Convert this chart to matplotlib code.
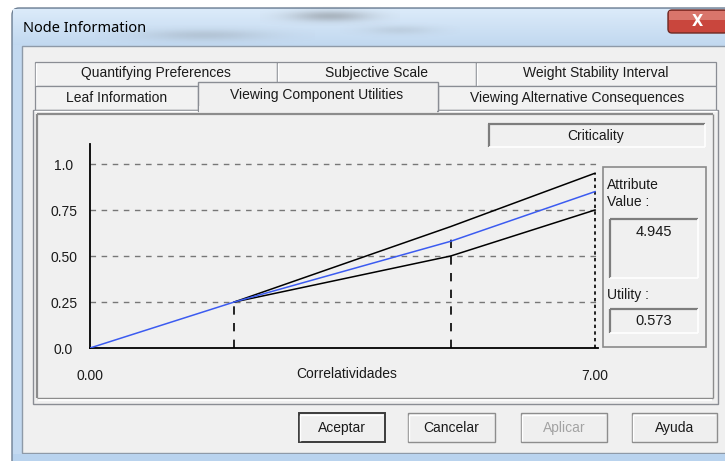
import numpy as np
import matplotlib
matplotlib.use("Agg")
import matplotlib.pyplot as plt
from matplotlib.patches import Rectangle, FancyBboxPatch

# ---------------- data ----------------
x_knots = [0, 2, 5, 7]
blue_util = [0.0, 0.25, 0.58, 0.85]
x_band = [2, 5, 7]
upper_util = [0.25, 0.66, 0.95]
lower_util = [0.25, 0.50, 0.75]
grid_levels = [0.25, 0.50, 0.75, 1.0]
y_ticks = [0.0, 0.25, 0.50, 0.75, 1.0]
y_ticklabels = ["0.0", "0.25", "0.50", "0.75", "1.0"]
x_ticks = [0, 7]
x_ticklabels = ["0.00", "7.00"]
x_label = "Correlatividades"
vline_x = [2, 5, 7]
vline_top = [0.25, 0.60, 0.95]
attribute_value = "4.945"
utility_value = "0.573"
tabs_row1 = ["Quantifying Preferences", "Subjective Scale", "Weight Stability Interval"]
tabs_row2 = ["Leaf Information", "Viewing Component Utilities", "Viewing Alternative Consequences"]
buttons = ["Aceptar", "Cancelar", "Aplicar", "Ayuda"]

W, H = 725, 461
FONT = "Liberation Sans"

fig = plt.figure(figsize=(W / 100, H / 100), dpi=100)
fig.patch.set_facecolor("white")
bg = fig.add_axes([0, 0, 1, 1])
bg.set_xlim(0, W)
bg.set_ylim(H, 0)
bg.axis("off")


def rect(x0, y0, x1, y1, fc="none", ec="none", lw=1.0, z=1, alpha=1.0):
    bg.add_patch(Rectangle((x0, y0), x1 - x0, y1 - y0, facecolor=fc,
                           edgecolor=ec, linewidth=lw, zorder=z, alpha=alpha))


def line(xs, ys, c, lw=1.0, z=3):
    bg.plot(xs, ys, color=c, lw=lw, zorder=z, solid_capstyle="butt")


def txt(x, y, s, size=10, ha="center", color="#1a1a1a", family=FONT, z=6, **kw):
    bg.text(x, y, s, fontsize=size, ha=ha, va="center", color=color,
            family=family, zorder=z, **kw)


# ---------------- window frame ----------------
frame = FancyBboxPatch((12, 8), 760, 460, boxstyle="round,pad=0,rounding_size=7",
                       facecolor="#c3d9f0", edgecolor="#6d7f93", lw=1.0, zorder=0.5)
bg.add_patch(frame)
# title bar gradient
grad = np.linspace(0, 1, 40)[:, None]
top_c = np.array([0.86, 0.92, 0.98])
bot_c = np.array([0.76, 0.85, 0.94])
img = top_c[None, None, :] * (1 - grad[..., None]) + bot_c[None, None, :] * grad[..., None]
img = np.repeat(img, 2, axis=1)
bg.imshow(img, extent=[13, 725, 45, 9], aspect="auto", zorder=0.6, interpolation="bilinear")
# blurred background smudges
for cx, cy, w, h, a in [(330, 16, 70, 10, 0.35), (205, 35, 110, 10, 0.18), (400, 30, 60, 8, 0.12)]:
    yy, xx = np.mgrid[-1:1:30j, -1:1:60j]
    blob = np.exp(-(xx ** 2 + yy ** 2) * 3)
    rgba = np.zeros((30, 60, 4))
    rgba[..., :3] = 0.35
    rgba[..., 3] = blob * a
    bg.imshow(rgba, extent=[cx - w, cx + w, cy + h, cy - h], aspect="auto", zorder=0.7)
txt(23, 28, "Node Information", size=10.5, ha="left", color="#000000", family="Noto Sans")

# close button
close = FancyBboxPatch((668, 10), 60, 23, boxstyle="round,pad=0,rounding_size=4",
                       facecolor="#c9463d", edgecolor="#6e2a24", lw=1.0, zorder=2)
bg.add_patch(close)
rect(669, 11, 726, 20, fc="#e08a80", z=2.1, alpha=0.7)
txt(697, 21, "X", size=10.5, color="white", weight="bold", family="DejaVu Sans", z=3)

# client area
rect(22, 46, 726, 453, fc="#f0f0f0", ec="#8e9aa8", lw=1.0, z=1)
rect(13, 454, 726, 461, fc="#b9d3ee", z=1)

# ---------------- tabs ----------------
tab_grey = "#f2f2f2"
tab_edge = "#8a8d94"
row1_x = [35, 277, 476, 716]
for i, label in enumerate(tabs_row1):
    rect(row1_x[i], 62, row1_x[i + 1], 86, fc=tab_grey, ec=tab_edge, lw=0.9, z=2)
    line([row1_x[i] + 1, row1_x[i] + 1], [63, 86], "white", lw=1, z=2.1)
    txt((row1_x[i] + row1_x[i + 1]) / 2, 73.5, label, size=10)

row2_x = [35, 198, 438, 716]
for i, label in enumerate(tabs_row2):
    if i == 1:
        continue
    rect(row2_x[i], 86, row2_x[i + 1], 110, fc=tab_grey, ec=tab_edge, lw=0.9, z=2.2)
    txt((row2_x[i] + row2_x[i + 1]) / 2, 97.5, label, size=10)

# tab panel
rect(33, 110, 718, 404, fc="#f0f0f0", ec="#8a8d94", lw=1.0, z=2.5)
line([34, 717], [111, 111], "white", lw=1, z=2.6)
# selected tab
rect(198, 82, 438, 111, fc="#f0f0f0", ec="#8a8d94", lw=1.0, z=2.7)
rect(199, 106, 437, 113, fc="#f0f0f0", z=2.8)
txt(317, 94.5, tabs_row2[1], size=10, z=3)

# sunken inner frame
line([37, 37], [114, 398], "#8c8c8c", lw=1.6, z=3)
line([37, 713], [114, 114], "#8c8c8c", lw=1.6, z=3)
line([713, 713], [114, 398], "#8c8c8c", lw=1.0, z=3)
line([37, 713], [398, 398], "#8c8c8c", lw=1.0, z=3)
line([38, 712], [400, 400], "white", lw=1.2, z=3)

# criticality box
rect(488, 123, 705, 147, fc="#f0f0f0", ec="none", z=3)
line([488, 705], [124, 124], "#7d7d7d", lw=1.6, z=3.1)
line([489, 489], [124, 147], "#7d7d7d", lw=1.6, z=3.1)
line([489, 705], [147, 147], "white", lw=1.2, z=3.1)
line([705, 705], [124, 147], "white", lw=1.2, z=3.1)
txt(596, 135.5, "Criticality", size=10)

# attribute / utility panel
rect(603, 167, 706, 347, fc="none", ec="#8a8a8a", lw=1.2, z=3)
txt(607, 185, "Attribute", size=10, ha="left")
txt(607, 202, "Value :", size=10, ha="left")
for (y0, y1, val, ty) in [(219, 278, attribute_value, 232), (309, 333, utility_value, 321)]:
    line([610, 698], [y0, y0], "#7d7d7d", lw=1.6, z=3.1)
    line([610, 610], [y0, y1], "#7d7d7d", lw=1.6, z=3.1)
    line([610, 698], [y1, y1], "white", lw=1.2, z=3.1)
    line([698, 698], [y0, y1], "white", lw=1.2, z=3.1)
    txt(654, ty, val, size=10.5)
txt(607, 295, "Utility :", size=10, ha="left")

# ---------------- buttons ----------------
btn_x = [(299, 385), (408, 495), (521, 607), (632, 717)]
for i, (label, (x0, x1)) in enumerate(zip(buttons, btn_x)):
    ec = "#3c3c3c" if i == 0 else "#8d8d8d"
    lwb = 1.4 if i == 0 else 1.0
    rect(x0, 413, x1, 442, fc="#efefef", ec=ec, lw=lwb, z=3)
    line([x0 + 1.5, x1 - 1.5], [414.5, 414.5], "white", lw=1, z=3.1)
    line([x0 + 1.5, x0 + 1.5], [414.5, 440.5], "white", lw=1, z=3.1)
    color = "#a3a3a3" if label == "Aplicar" else "#1a1a1a"
    txt((x0 + x1) / 2, 428, label, size=10, color=color)

# ---------------- chart ----------------
px_x0, px_x1_7, px_xr = 90, 595, 598
px_y0, px_y1, px_yt = 348, 164, 144
xmax = 7 * (px_xr - px_x0) / (px_x1_7 - px_x0)
ymax = (px_y0 - px_yt) / (px_y0 - px_y1)
ax = fig.add_axes([px_x0 / W, 1 - px_y0 / H, (px_xr - px_x0) / W, (px_y0 - px_yt) / H])
ax.set_facecolor("none")
ax.set_xlim(0, xmax)
ax.set_ylim(0, ymax)
for s in ["top", "right"]:
    ax.spines[s].set_visible(False)
for s in ["left", "bottom"]:
    ax.spines[s].set_color("black")
    ax.spines[s].set_linewidth(1.3)
ax.set_zorder(5)

ax.hlines(grid_levels, 0, xmax, colors="#777777", linestyles=(0, (4, 4)), lw=1.0, zorder=1)
for xv, top in zip(vline_x, vline_top):
    ls = (0, (2, 2)) if xv == 7 else (0, (5, 5))
    ax.vlines(xv, 0, top, colors="black", linestyles=ls, lw=1.2, zorder=2)

ax.plot(x_band, upper_util, color="black", lw=1.1, zorder=3)
ax.plot(x_band, lower_util, color="black", lw=1.1, zorder=3)
ax.plot(x_knots, blue_util, color="#3b5bf0", lw=1.1, zorder=4)

ax.set_yticks(y_ticks)
ax.set_yticklabels(y_ticklabels, fontsize=10, family=FONT, color="#1a1a1a")
ax.set_xticks(x_ticks)
ax.set_xticklabels(x_ticklabels, fontsize=10, family=FONT, color="#1a1a1a")
ax.tick_params(axis="y", length=0, pad=19)
ax.tick_params(axis="x", length=0, pad=15)
for lab in ax.get_yticklabels():
    lab.set_horizontalalignment("center")

txt(347, 374, x_label, size=10)

fig.savefig("out.png", dpi=100, facecolor=fig.get_facecolor())
